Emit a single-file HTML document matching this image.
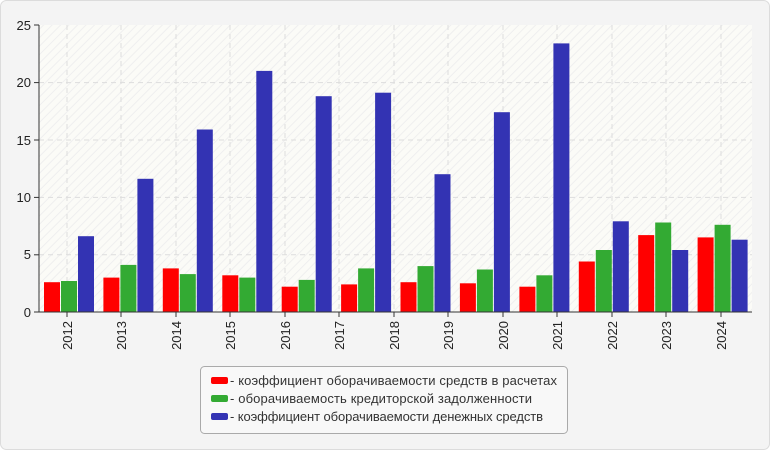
<!DOCTYPE html>
<html><head><meta charset="utf-8"><style>
body{margin:0;background:#fff}
svg{display:block;font-family:"Liberation Sans","DejaVu Sans",sans-serif}
</style></head><body>
<svg width="770" height="450" viewBox="0 0 770 450" xmlns="http://www.w3.org/2000/svg">
<defs>
<pattern id="h" width="6" height="6" patternUnits="userSpaceOnUse" patternTransform="rotate(45)">
<rect width="6" height="6" fill="#fbfbf7"/><line x1="0" y1="0" x2="0" y2="6" stroke="#efefef" stroke-width="2"/>
</pattern>
</defs>
<rect x="0.5" y="0.5" width="769" height="449" rx="6" fill="#f4f4f4" stroke="#dcdcdc"/>
<rect x="39" y="25" width="713" height="287" fill="url(#h)"/>
<g stroke="#dddddd" stroke-dasharray="5,4" stroke-width="1">
<line x1="39" y1="82.6" x2="752" y2="82.6"/>
<line x1="39" y1="140" x2="752" y2="140"/>
<line x1="39" y1="197.4" x2="752" y2="197.4"/>
<line x1="39" y1="254.8" x2="752" y2="254.8"/>
<line x1="67" y1="25" x2="67" y2="312"/><line x1="121" y1="25" x2="121" y2="312"/>
<line x1="176" y1="25" x2="176" y2="312"/><line x1="230" y1="25" x2="230" y2="312"/>
<line x1="285" y1="25" x2="285" y2="312"/><line x1="339" y1="25" x2="339" y2="312"/>
<line x1="394" y1="25" x2="394" y2="312"/><line x1="448" y1="25" x2="448" y2="312"/>
<line x1="503" y1="25" x2="503" y2="312"/><line x1="557" y1="25" x2="557" y2="312"/>
<line x1="612" y1="25" x2="612" y2="312"/><line x1="666" y1="25" x2="666" y2="312"/>
<line x1="721" y1="25" x2="721" y2="312"/>
</g>
<g fill="#ff0000">
<rect x="44" y="282.2" width="16" height="29.8"/>
<rect x="103.4" y="277.6" width="16" height="34.4"/>
<rect x="162.8" y="268.4" width="16" height="43.6"/>
<rect x="222.3" y="275.3" width="16" height="36.7"/>
<rect x="281.7" y="286.7" width="16" height="25.3"/>
<rect x="341.1" y="284.4" width="16" height="27.6"/>
<rect x="400.5" y="282.2" width="16" height="29.8"/>
<rect x="459.9" y="283.3" width="16" height="28.7"/>
<rect x="519.4" y="286.7" width="16" height="25.3"/>
<rect x="578.8" y="261.5" width="16" height="50.5"/>
<rect x="638.2" y="235.1" width="16" height="76.9"/>
<rect x="697.6" y="237.4" width="16" height="74.6"/>
</g>
<g fill="#33aa33">
<rect x="61" y="281" width="16" height="31"/>
<rect x="120.4" y="264.9" width="16" height="47.1"/>
<rect x="179.8" y="274.1" width="16" height="37.9"/>
<rect x="239.3" y="277.6" width="16" height="34.4"/>
<rect x="298.7" y="279.9" width="16" height="32.1"/>
<rect x="358.1" y="268.4" width="16" height="43.6"/>
<rect x="417.5" y="266.1" width="16" height="45.9"/>
<rect x="476.9" y="269.5" width="16" height="42.5"/>
<rect x="536.4" y="275.3" width="16" height="36.7"/>
<rect x="595.8" y="250" width="16" height="62"/>
<rect x="655.2" y="222.5" width="16" height="89.5"/>
<rect x="714.6" y="224.8" width="16" height="87.2"/>
</g>
<g fill="#3333b3">
<rect x="78" y="236.2" width="16" height="75.8"/>
<rect x="137.4" y="178.8" width="16" height="133.2"/>
<rect x="196.8" y="129.5" width="16" height="182.5"/>
<rect x="256.3" y="70.9" width="16" height="241.1"/>
<rect x="315.7" y="96.2" width="16" height="215.8"/>
<rect x="375.1" y="92.7" width="16" height="219.3"/>
<rect x="434.5" y="174.2" width="16" height="137.8"/>
<rect x="493.9" y="112.2" width="16" height="199.8"/>
<rect x="553.4" y="43.4" width="16" height="268.6"/>
<rect x="612.8" y="221.3" width="16" height="90.7"/>
<rect x="672.2" y="250" width="16" height="62"/>
<rect x="731.6" y="239.7" width="16" height="72.3"/>
</g>
<g stroke="#333" stroke-width="1">
<line x1="39" y1="25" x2="39" y2="312"/><line x1="39" y1="312" x2="752" y2="312"/>
<line x1="34" y1="25" x2="39" y2="25"/><line x1="34" y1="82.6" x2="39" y2="82.6"/><line x1="34" y1="140" x2="39" y2="140"/><line x1="34" y1="197.4" x2="39" y2="197.4"/><line x1="34" y1="254.8" x2="39" y2="254.8"/><line x1="34" y1="312" x2="39" y2="312"/>
<line x1="67" y1="312" x2="67" y2="317"/><line x1="121" y1="312" x2="121" y2="317"/><line x1="176" y1="312" x2="176" y2="317"/><line x1="230" y1="312" x2="230" y2="317"/><line x1="285" y1="312" x2="285" y2="317"/><line x1="339" y1="312" x2="339" y2="317"/><line x1="394" y1="312" x2="394" y2="317"/><line x1="448" y1="312" x2="448" y2="317"/><line x1="503" y1="312" x2="503" y2="317"/><line x1="557" y1="312" x2="557" y2="317"/><line x1="612" y1="312" x2="612" y2="317"/><line x1="666" y1="312" x2="666" y2="317"/><line x1="721" y1="312" x2="721" y2="317"/>
</g>
<g font-size="13" fill="#222" text-anchor="end">
<text x="31" y="30">25</text><text x="31" y="87">20</text><text x="31" y="145">15</text><text x="31" y="202">10</text><text x="31" y="259">5</text><text x="31" y="317">0</text>
</g>
<g font-size="13" fill="#222" text-anchor="end">
<text transform="translate(72,321) rotate(-90)">2012</text>
<text transform="translate(126,321) rotate(-90)">2013</text>
<text transform="translate(181,321) rotate(-90)">2014</text>
<text transform="translate(235,321) rotate(-90)">2015</text>
<text transform="translate(290,321) rotate(-90)">2016</text>
<text transform="translate(344,321) rotate(-90)">2017</text>
<text transform="translate(399,321) rotate(-90)">2018</text>
<text transform="translate(453,321) rotate(-90)">2019</text>
<text transform="translate(508,321) rotate(-90)">2020</text>
<text transform="translate(562,321) rotate(-90)">2021</text>
<text transform="translate(617,321) rotate(-90)">2022</text>
<text transform="translate(671,321) rotate(-90)">2023</text>
<text transform="translate(726,321) rotate(-90)">2024</text>
</g>
<rect x="200.5" y="366.5" width="367" height="67" rx="4" fill="#f8f8f8" stroke="#aaa"/>
<rect x="211" y="377" width="17" height="7" rx="2" fill="#ff0000"/>
<rect x="211" y="395" width="17" height="7" rx="2" fill="#33aa33"/>
<rect x="211" y="413" width="17" height="7" rx="2" fill="#3333b3"/>
<g font-size="13" fill="#333">
<text x="230" y="385" textLength="327">- коэффициент оборачиваемости средств в расчетах</text>
<text x="230" y="403" textLength="302">- оборачиваемость кредиторской задолженности</text>
<text x="230" y="421" textLength="313">- коэффициент оборачиваемости денежных средств</text>
</g>
</svg>
</body></html>
